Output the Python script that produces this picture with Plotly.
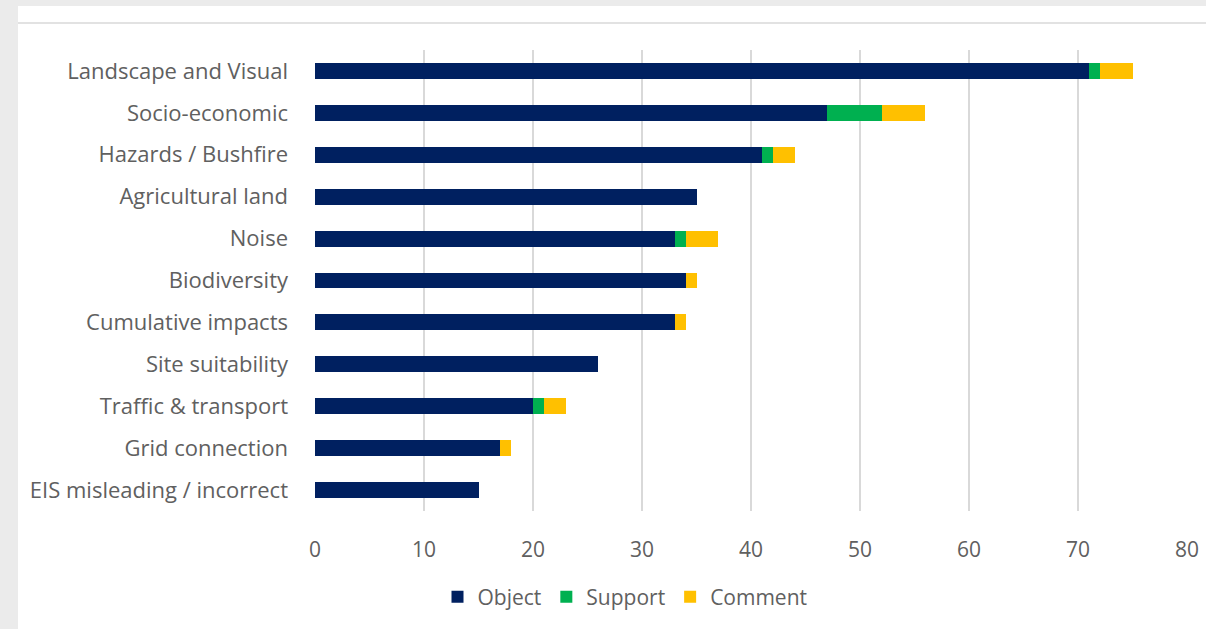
import plotly.graph_objects as go

categories = [
    "Landscape and Visual",
    "Socio-economic",
    "Hazards / Bushfire",
    "Agricultural land",
    "Noise",
    "Biodiversity",
    "Cumulative impacts",
    "Site suitability",
    "Traffic & transport",
    "Grid connection",
    "EIS misleading / incorrect",
]
object_vals = [71, 47, 41, 35, 33, 34, 33, 26, 20, 17, 15]
support_vals = [1, 5, 1, 0, 1, 0, 0, 0, 1, 0, 0]
comment_vals = [3, 4, 2, 0, 3, 1, 1, 0, 2, 1, 0]
x_ticks = [0, 10, 20, 30, 40, 50, 60, 70, 80]

series = [
    ("Object", object_vals, "#002060"),
    ("Support", support_vals, "#00B050"),
    ("Comment", comment_vals, "#FFC000"),
]

fig = go.Figure()
for name, vals, color in series:
    fig.add_trace(go.Bar(
        y=categories, x=vals, name=name, orientation="h",
        marker=dict(color=color, line=dict(width=0)),
    ))

W, H = 1206, 629
L, R, T, B = 315, 19, 50, 118
pw, ph = W - L - R, H - T - B

def px_x(p):
    return (p - L) / pw

def px_y(p):
    return (H - B - p) / ph

fig.add_shape(type="rect", xref="paper", yref="paper",
              x0=px_x(18), x1=px_x(W + 5), y0=px_y(6), y1=px_y(H + 5),
              fillcolor="white", line=dict(width=0), layer="below")
fig.add_shape(type="line", xref="paper", yref="paper",
              x0=px_x(18), x1=px_x(W + 5), y0=px_y(23), y1=px_y(23),
              line=dict(color="#D9D9D9", width=1.5), layer="below")

font_family = "Open Sans, Roboto, sans-serif"
fig.update_layout(
    width=W, height=H,
    autosize=False,
    margin=dict(l=L, r=R, t=T, b=B, autoexpand=False),
    barmode="stack",
    bargap=0.62,
    paper_bgcolor="#EBEBEB",
    plot_bgcolor="white",
    font=dict(family=font_family, color="#606060", size=21),
    legend=dict(orientation="h", x=px_x(625), xanchor="center",
                y=px_y(597), yanchor="middle",
                bgcolor="rgba(0,0,0,0)",
                font=dict(size=21, color="#606060"),
                itemwidth=30, traceorder="normal"),
    xaxis=dict(range=[0, 80], tickvals=x_ticks, showgrid=True,
               gridcolor="#D9D9D9", gridwidth=1.5, zeroline=False,
               showline=False, ticklabelstandoff=24, automargin=False,
               tickfont=dict(size=21, color="#606060")),
    yaxis=dict(categoryorder="array", categoryarray=categories,
               autorange="reversed", showgrid=False, showline=False,
               ticklabelstandoff=26, automargin=False,
               tickfont=dict(size=22, color="#606060")),
)

fig.write_html("out.html",
               config={"displayModeBar": False},
               post_script="document.body.style.margin='0';document.body.style.background='#EBEBEB';")
